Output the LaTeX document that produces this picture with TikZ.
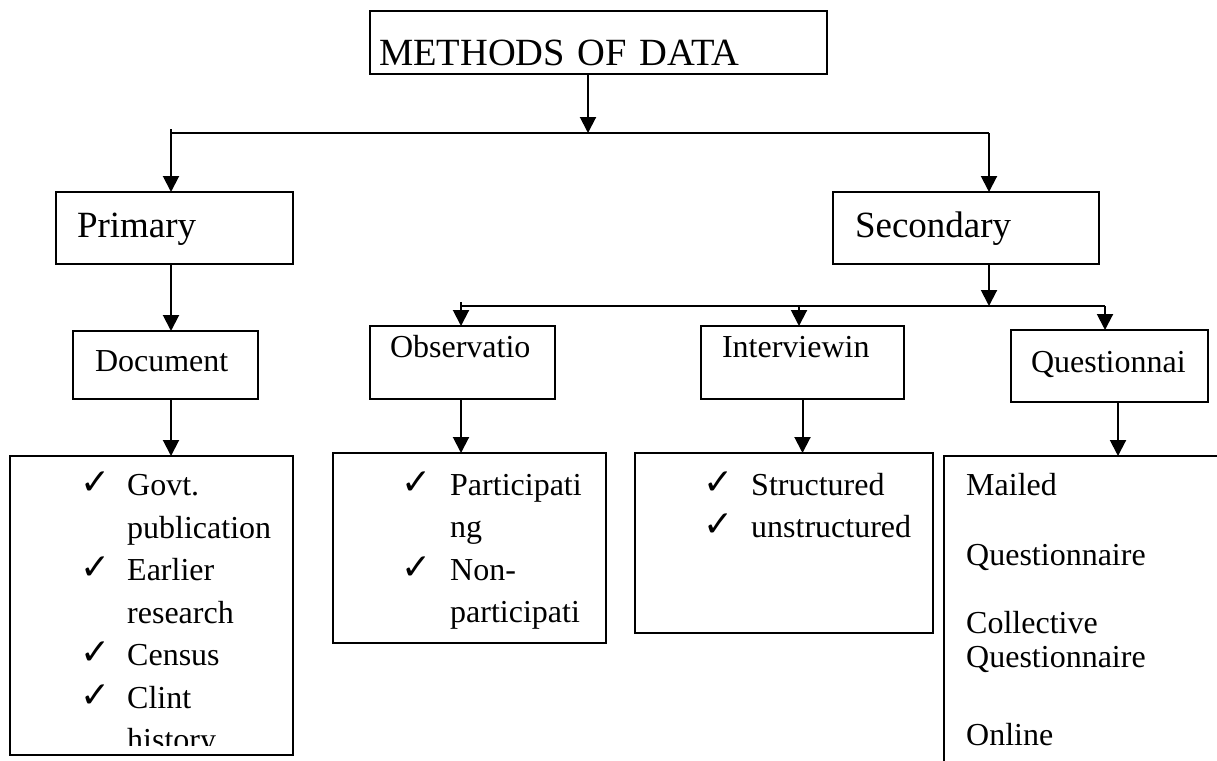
\documentclass[tikz,border=0pt]{standalone}
\usepackage{fontspec}
\setmainfont{Liberation Serif}
\newfontfamily\symfont{DejaVu Sans}
\usetikzlibrary{arrows.meta}
\begin{document}
\begin{tikzpicture}[x=1pt,y=-1pt,
  box/.style={draw, line width=2pt, anchor=north west, inner ysep=0pt, outer sep=0pt, align=left},
  big/.style={font=\fontsize{37}{44}\selectfont},
  mid/.style={font=\fontsize{32}{38}\selectfont},
  conn/.style={line width=2pt, -{Triangle[length=16pt,width=16pt]}},
  bus/.style={line width=2pt},
  item/.style={anchor=base west, inner sep=0pt, font=\fontsize{32}{38}\selectfont},
  tickmark/.style={anchor=base west, inner sep=0pt, font=\symfont\fontsize{36}{40}\selectfont},
  ]
\useasboundingbox (0,0) rectangle (1217,760);
\fill[white] (0,0) rectangle (1217,760);

% level 1
\node[box, font=\fontsize{38.5}{44}\selectfont, minimum width=457pt, minimum height=63pt, text width=439pt, inner xsep=9pt,
      text height=50pt, text depth=5pt] (top) at (370,11) {METHODS OF DATA};
% level 2
\node[box, big, minimum width=237pt, minimum height=72pt, text width=195pt, inner xsep=21pt,
      text height=26pt, text depth=8pt] (primary) at (56,192) {Primary};
\node[box, big, minimum width=266pt, minimum height=72pt, text width=222pt, inner xsep=22pt,
      text height=26pt, text depth=8pt] (secondary) at (833,192) {Secondary};
% level 3
\node[box, mid, minimum width=185pt, minimum height=68pt, text width=141pt, inner xsep=22pt,
      text height=22pt, text depth=10pt] (document) at (73,331) {Document};
\node[box, mid, minimum width=185pt, minimum height=73pt, text width=145pt, inner xsep=20pt,
      text height=20pt, text depth=31pt] (obs) at (370,326) {Observatio};
\node[box, mid, minimum width=203pt, minimum height=73pt, text width=161pt, inner xsep=21pt,
      text height=20pt, text depth=31pt] (int) at (701,326) {Interviewin};
\node[box, mid, minimum width=197pt, minimum height=72pt, text width=157pt, inner xsep=20pt,
      text height=22pt, text depth=10pt] (qst) at (1011,330) {Questionnai};
% level 4 boxes
\node[box, minimum width=283pt, minimum height=299pt] (docs) at (10,456) {};
\node[box, minimum width=273pt, minimum height=190pt] (obsl) at (333,453) {};
\node[box, minimum width=298pt, minimum height=180pt] (intl) at (635,453) {};
\node[box, minimum width=300pt, minimum height=330pt] (qstl) at (944,456) {};

% bus coordinates
\coordinate (j1) at (588,133);
\coordinate (b1L) at (171,133);
\coordinate (b1Lt) at (171,129);
\coordinate (b1R) at (989,133);
\coordinate (j2) at (989,306);
\coordinate (b2L) at (461,306);
\coordinate (b2Lt) at (461,302);
\coordinate (b2M) at (799,306);
\coordinate (b2R) at (1105,306);

% connectors
\draw[conn] (top.south -| j1) -- (j1);
\draw[bus] (b1Lt) -- (b1L) -- (b1R);
\draw[conn] (b1L) -- (b1L |- primary.north);
\draw[conn] (b1R) -- (b1R |- secondary.north);
\draw[conn] (primary.south -| b1L) -- (b1L |- document.north);
\draw[conn] (document.south -| b1L) -- (b1L |- docs.north);
\draw[conn] (secondary.south -| j2) -- (j2);
\draw[bus] (b2Lt) -- (b2L) -- (b2R);
\draw[conn] (b2L) -- (b2L |- obs.north);
\draw[conn] (b2M) -- (b2M |- int.north);
\draw[conn] (b2R) -- (b2R |- qst.north);
\draw[conn] (obs.south -| b2L) -- (b2L |- obsl.north);
\draw[conn] (int.south) -- (int.south |- intl.north);
\draw[conn] ([xshift=8.5pt]qst.south) -- ([xshift=8.5pt]qst.south |- qstl.north);

% document list (clipped)
\begin{scope}
\clip (12,458) rectangle (291,745);
\node[tickmark] (dk1) at (80,494) {✓};
\node[tickmark] (dk2) at (80,579) {✓};
\node[tickmark] (dk3) at (80,664) {✓};
\node[tickmark] (dk4) at (80,707) {✓};
\node[item] (d1) at (127,495) {Govt.};
\node[item] (d2) at (127,538) {publication};
\node[item] (d3) at (127,580) {Earlier};
\node[item] (d4) at (127,623) {research};
\node[item] (d5) at (127,665) {Census};
\node[item] (d6) at (127,708) {Clint};
\node[item] (d7) at (127,750) {history};
\end{scope}

% observation list
\node[tickmark] (ok1) at (401,494) {✓};
\node[tickmark] (ok2) at (401,579) {✓};
\node[item] (o1) at (450,495) {Participati};
\node[item] (o2) at (450,537) {ng};
\node[item] (o3) at (450,580) {Non-};
\node[item] (o4) at (450,622) {participati};

% interviewing list
\node[tickmark] (ik1) at (703,494) {✓};
\node[tickmark] (ik2) at (703,536) {✓};
\node[item] (i1) at (751,495) {Structured};
\node[item] (i2) at (751,537) {unstructured};

% questionnaire list
\node[item] (q1) at (966,495) {Mailed};
\node[item] (q2) at (966,565) {Questionnaire};
\node[item] (q3) at (966,633) {Collective};
\node[item] (q4) at (966,667) {Questionnaire};
\node[item] (q5) at (966,745) {Online};
\end{tikzpicture}
\end{document}
